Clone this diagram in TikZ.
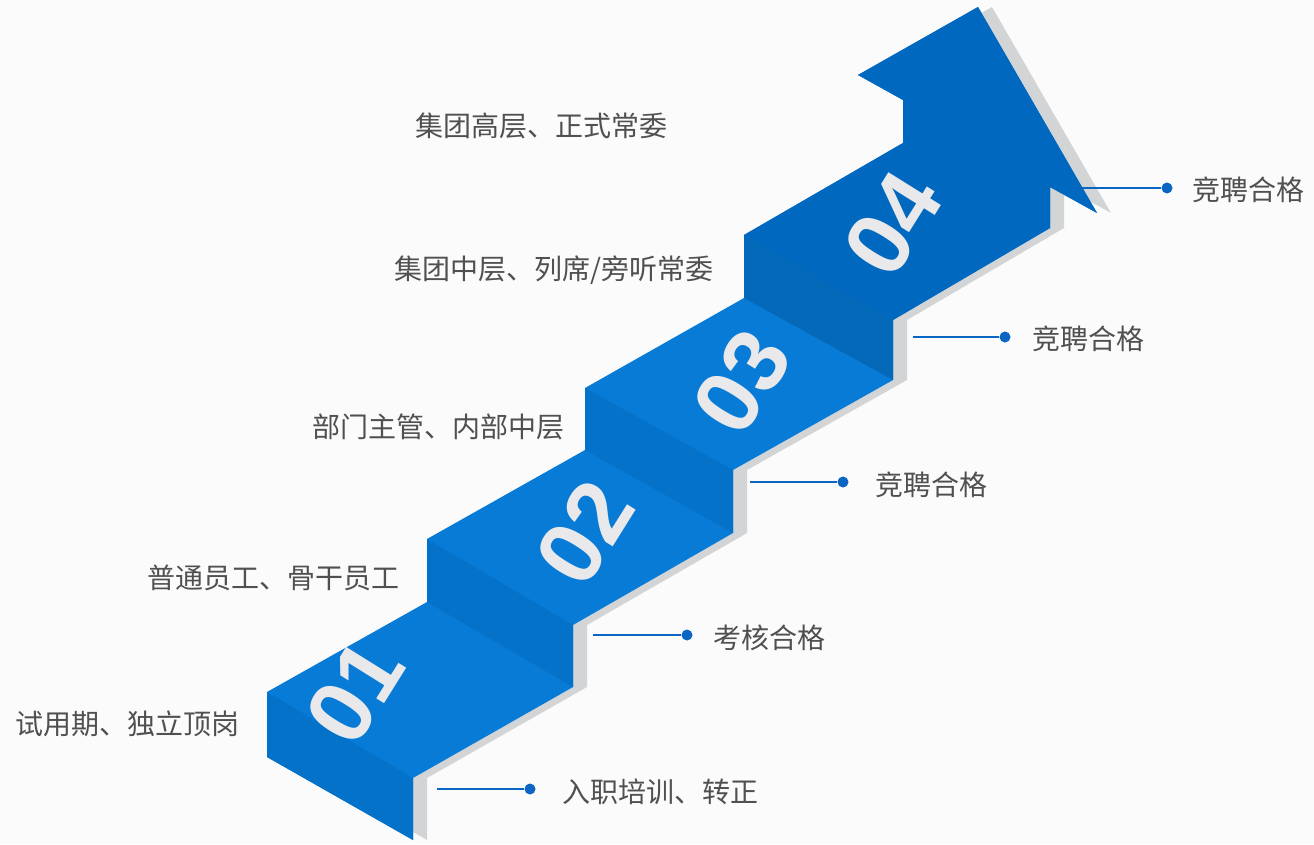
\documentclass[tikz,border=0pt]{standalone}
\usepackage{fontspec}
\newfontfamily\cjk{Noto Sans CJK SC}
\setsansfont{Liberation Sans}
\definecolor{pagebg}{HTML}{FBFBFB}
\definecolor{stairblue}{HTML}{087BD6}
\definecolor{riserblue}{HTML}{0472C9}
\definecolor{arrowblue}{HTML}{0068BF}
\definecolor{shadowgrey}{HTML}{D3D4D6}
\definecolor{labelcolor}{HTML}{505050}
\definecolor{digitcolor}{HTML}{E9E9EB}
\definecolor{linkblue}{HTML}{0A66C2}
\tikzset{
  steplabel/.style={anchor=east, font=\cjk\fontsize{28}{32}\selectfont, text=labelcolor, inner sep=0pt},
  passlabel/.style={anchor=west, font=\cjk\fontsize{28}{32}\selectfont, text=labelcolor, inner sep=0pt},
  stepnum/.style={font=\sffamily\bfseries\fontsize{90}{94}\selectfont, text=digitcolor, rotate=58, inner sep=0pt},
  dot/.style={circle, fill=linkblue, inner sep=0pt, minimum size=11pt},
  link/.style={linkblue, line width=1.5pt}
}
\begin{document}
\begin{tikzpicture}[x=1pt, y=-1pt]
  \fill[pagebg] (0,0) rectangle (1314,844);
  \useasboundingbox (0,0) rectangle (1314,844);

  % === STAIRCASE ===
  \def\stairpath{(267,692) -- (427,602) -- (427,539) -- (585,450) -- (585,388)
    -- (744,298) -- (744,235) -- (903,143) -- (903,100) -- (858,75) -- (978,7)
    -- (1097,213) -- (1050,187) -- (1050,228) -- (893,320) -- (893,380)
    -- (733,470) -- (733,533) -- (573,625) -- (573,687) -- (413,778)
    -- (413,840) -- (267,757) -- cycle}
  \fill[shadowgrey, shift={(14,0)}] \stairpath;
  \fill[stairblue] \stairpath;
  % risers
  \fill[riserblue] (267,692) -- (267,757) -- (413,840) -- (413,778) -- cycle;
  \fill[riserblue] (427,539) -- (427,602) -- (573,687) -- (573,625) -- cycle;
  \fill[riserblue] (585,388) -- (585,450) -- (733,533) -- (733,470) -- cycle;
  \fill[riserblue!92!black] (744,235) -- (744,298) -- (893,380) -- (893,320) -- cycle;
  % top of the arrow
  \fill[arrowblue] (744,235) -- (903,143) -- (903,100) -- (858,75) -- (978,7)
    -- (1097,213) -- (1050,187) -- (1050,228) -- (893,320) -- cycle;

  \node[stepnum] (n1) at (355,692) {01};
  \node[stepnum] (n2) at (585,533) {02};
  \node[stepnum] (n3) at (742,382) {03};
  \node[stepnum] (n4) at (893,224) {04};

  % === LEVELS ===
  \node[steplabel] (l1) at (240,724) {试用期、独立顶岗};
  \node[steplabel] (l2) at (400,578) {普通员工、骨干员工};
  \node[steplabel] (l3) at (565,427) {部门主管、内部中层};
  \node[steplabel] (l4) at (714,270) {集团中层、列席/旁听常委};
  \node[steplabel] (l5) at (668,126) {集团高层、正式常委};

  % === CONDITIONS ===
  \coordinate (c1) at (437,789);
  \node[dot] (d1) at (530,789) {};
  \node[passlabel] (p1) at (562,792) {入职培训、转正};
  \draw[link] (c1) -- (d1);

  \coordinate (c2) at (593,635);
  \node[dot] (d2) at (687,635) {};
  \node[passlabel] (p2) at (713,638) {考核合格};
  \draw[link] (c2) -- (d2);

  \coordinate (c3) at (750,482);
  \node[dot] (d3) at (843,482) {};
  \node[passlabel] (p3) at (875,485) {竞聘合格};
  \draw[link] (c3) -- (d3);

  \coordinate (c4) at (913,337);
  \node[dot] (d4) at (1005,337) {};
  \node[passlabel] (p4) at (1032,339) {竞聘合格};
  \draw[link] (c4) -- (d4);

  \coordinate (c5) at (1077,188);
  \node[dot] (d5) at (1167,188) {};
  \node[passlabel] (p5) at (1192,190) {竞聘合格};
  \draw[link] (c5) -- (d5);
\end{tikzpicture}
\end{document}
